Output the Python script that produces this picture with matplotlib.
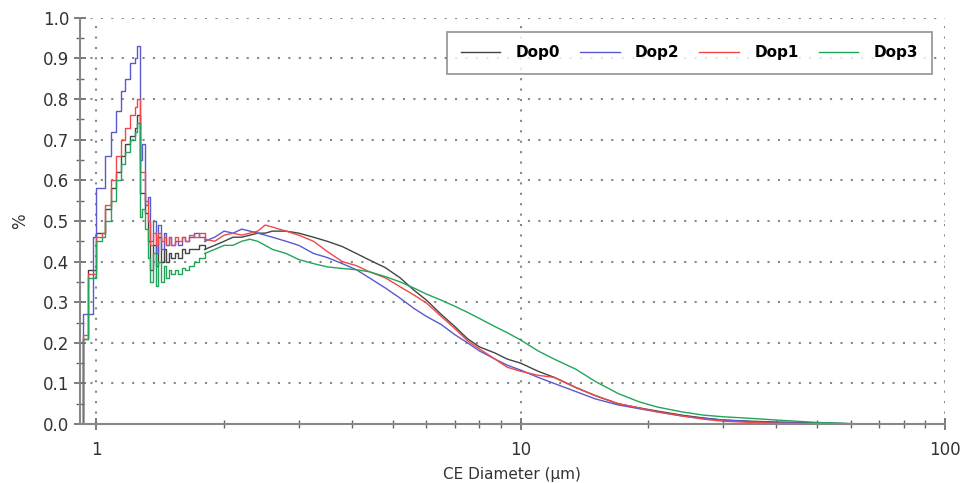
import matplotlib.pyplot as plt
from matplotlib.ticker import FixedLocator, NullFormatter, MultipleLocator

# CE diameter (um), shared bin positions
diametro = [0.90, 0.93, 0.955, 0.98, 1.0, 1.03, 1.05, 1.08, 1.11, 1.14,
            1.17, 1.20, 1.23, 1.25, 1.265, 1.28, 1.30, 1.32, 1.34, 1.36,
            1.38, 1.40, 1.42, 1.44, 1.46, 1.48, 1.50, 1.53, 1.56, 1.59,
            1.62, 1.65, 1.70, 1.75, 1.80, 1.9, 2.0, 2.1, 2.2, 2.3,
            2.4, 2.5, 2.6, 2.8, 3.0, 3.25, 3.5, 3.8, 4.1, 4.4,
            4.8, 5.2, 5.6, 6.0, 6.5, 7.0, 7.5, 8.0, 8.7, 9.3,
            10, 11, 12, 13.5, 15, 17, 19, 21, 24, 27,
            30, 35, 40, 50, 60, 80, 100]

dop0 = [0, 0.21, 0.38, 0.38, 0.47, 0.47, 0.53, 0.58, 0.62, 0.66,
        0.69, 0.71, 0.73, 0.76, 0.57, 0.57, 0.52, 0.45, 0.38, 0.44,
        0.39, 0.46, 0.40, 0.43, 0.40, 0.42, 0.41, 0.42, 0.41, 0.43,
        0.42, 0.43, 0.43, 0.44, 0.43, 0.44, 0.45, 0.46, 0.46, 0.465,
        0.47, 0.47, 0.475, 0.475, 0.47, 0.46, 0.45, 0.437, 0.42, 0.404,
        0.385, 0.36, 0.33, 0.305, 0.27, 0.24, 0.21, 0.19, 0.175, 0.16,
        0.15, 0.13, 0.115, 0.09, 0.07, 0.05, 0.04, 0.032, 0.022, 0.015,
        0.01, 0.007, 0.005, 0.003, 0.001, 0, 0]

dop2 = [0, 0.27, 0.27, 0.46, 0.58, 0.58, 0.66, 0.72, 0.77, 0.82,
        0.85, 0.89, 0.90, 0.93, 0.65, 0.69, 0.54, 0.56, 0.45, 0.50,
        0.42, 0.49, 0.43, 0.47, 0.44, 0.46, 0.44, 0.45, 0.44, 0.46,
        0.45, 0.46, 0.47, 0.46, 0.45, 0.46, 0.475, 0.47, 0.48, 0.475,
        0.47, 0.465, 0.46, 0.45, 0.44, 0.42, 0.41, 0.395, 0.38, 0.36,
        0.335, 0.31, 0.285, 0.265, 0.245, 0.22, 0.20, 0.18, 0.16, 0.145,
        0.133, 0.115, 0.10, 0.08, 0.062, 0.047, 0.038, 0.03, 0.02, 0.014,
        0.01, 0.006, 0.004, 0.002, 0.001, 0, 0]

dop1 = [0, 0.22, 0.37, 0.37, 0.46, 0.47, 0.54, 0.60, 0.66, 0.70,
        0.73, 0.76, 0.78, 0.80, 0.62, 0.62, 0.55, 0.50, 0.44, 0.47,
        0.44, 0.47, 0.45, 0.46, 0.44, 0.46, 0.44, 0.46, 0.45, 0.46,
        0.45, 0.465, 0.46, 0.47, 0.455, 0.45, 0.465, 0.47, 0.465, 0.47,
        0.475, 0.49, 0.485, 0.475, 0.465, 0.45, 0.425, 0.40, 0.39, 0.375,
        0.36, 0.338, 0.318, 0.298, 0.265, 0.235, 0.205, 0.185, 0.16, 0.14,
        0.13, 0.12, 0.115, 0.09, 0.07, 0.05, 0.04, 0.03, 0.02, 0.012,
        0.007, 0.004, 0.002, 0.001, 0, 0, 0]

dop3 = [0, 0.21, 0.36, 0.36, 0.45, 0.46, 0.50, 0.55, 0.60, 0.64,
        0.67, 0.70, 0.72, 0.74, 0.51, 0.53, 0.48, 0.41, 0.35, 0.42,
        0.34, 0.40, 0.35, 0.39, 0.36, 0.38, 0.37, 0.38, 0.37, 0.385,
        0.38, 0.39, 0.40, 0.41, 0.42, 0.43, 0.44, 0.44, 0.45, 0.455,
        0.45, 0.44, 0.43, 0.42, 0.405, 0.395, 0.387, 0.383, 0.38, 0.375,
        0.363, 0.35, 0.335, 0.32, 0.305, 0.29, 0.275, 0.26, 0.24, 0.225,
        0.207, 0.18, 0.16, 0.135, 0.105, 0.075, 0.055, 0.042, 0.03, 0.022,
        0.018, 0.014, 0.01, 0.004, 0.001, 0, 0]

series = [("Dop0", dop0, "#444444"),
          ("Dop2", dop2, "#5a5acc"),
          ("Dop1", dop1, "#f04848"),
          ("Dop3", dop3, "#22a45a")]

# até ~1.8 um a curva é em degraus, depois é linha contínua
k = diametro.index(1.80)

fig = plt.figure(figsize=(9.7, 4.83), dpi=100)
ax = fig.add_axes([0.0825, 0.122, 0.8915, 0.841])

for nome, vals, cor in series:
    ax.plot(diametro[:k + 1], vals[:k + 1], drawstyle="steps-post", color=cor, lw=1.0,
            label=nome)
    ax.plot(diametro[k:], vals[k:], color=cor, lw=1.0)

ax.set_xscale("log")
ax.set_xlim(0.915, 100)
ax.set_ylim(0, 1.0)

ax.yaxis.set_major_locator(MultipleLocator(0.1))
ax.yaxis.set_minor_locator(MultipleLocator(0.05))
ax.yaxis.set_major_formatter(plt.FuncFormatter(lambda v, p: "%.1f" % v))
ax.xaxis.set_major_locator(FixedLocator([1, 10, 100]))
ax.xaxis.set_major_formatter(plt.FuncFormatter(lambda v, p: "%g" % v))
ax.xaxis.set_minor_locator(FixedLocator([2, 3, 4, 5, 6, 7, 8, 9,
                                         20, 30, 40, 50, 60, 70, 80, 90]))
ax.xaxis.set_minor_formatter(NullFormatter())

ax.grid(True, which="major", color="#888888", linestyle=(0, (1, 4)), lw=1.5)

for s in ["top", "right"]:
    ax.spines[s].set_visible(False)
for s in ["left", "bottom"]:
    ax.spines[s].set_color("#888888")
    ax.spines[s].set_linewidth(1.5)

ax.tick_params(which="both", direction="inout", color="#666666", labelcolor="#333333",
               labelsize=12)
ax.tick_params(which="major", length=8, width=1.2)
ax.tick_params(which="minor", length=6, width=1.0)
ax.tick_params(axis="x", pad=8)

ax.set_xlabel("CE Diameter (µm)", fontsize=11, color="#333333", labelpad=6)
ax.set_ylabel("%", fontsize=12, color="#333333", labelpad=10)

leg = ax.legend(loc="upper right", bbox_to_anchor=(0.994, 0.985), ncol=4, frameon=True,
                fancybox=False, edgecolor="#777777", handlelength=2.6,
                handletextpad=1.0, columnspacing=1.3, borderpad=0.9,
                prop={"weight": "bold", "size": 11})
leg.get_frame().set_linewidth(1.2)

fig.savefig("out.png", dpi=100)
